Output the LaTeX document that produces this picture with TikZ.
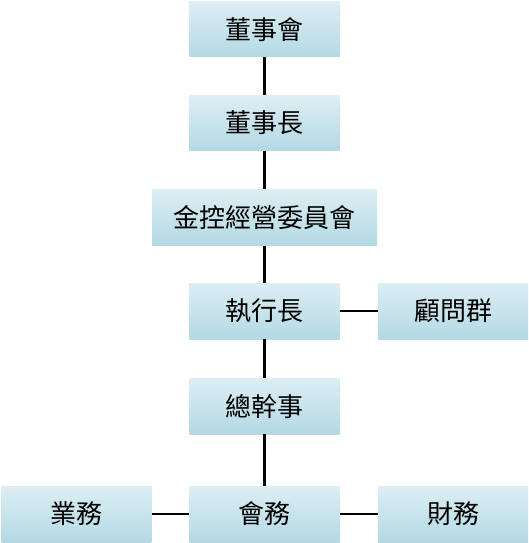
\documentclass[tikz,border=0pt]{standalone}
\usepackage{fontspec}
\setmainfont{Noto Sans CJK TC}
\begin{document}
\begin{tikzpicture}[x=1pt,y=-1pt,
  orgbox/.style={rectangle, top color=boxtop, bottom color=boxbot, draw=none,
    minimum width=150pt, minimum height=55pt, inner sep=0pt,
    font=\fontsize{26}{30}\selectfont, text=black},
  link/.style={draw=black, line width=2.6pt}]
\definecolor{boxtop}{HTML}{DDEEF4}
\definecolor{boxbot}{HTML}{B3D9E4}
\useasboundingbox (0,0) rectangle (529,543);
\node[orgbox] (a) at (264.5,29.5) {董事會};
\node[orgbox] (b) at (264.5,123) {董事長};
\node[orgbox, minimum width=225pt, minimum height=56pt] (c) at (264.5,217.5) {金控經營委員會};
\node[orgbox, minimum height=56pt] (d) at (264.5,311) {執行長};
\node[orgbox, minimum height=56pt] (e) at (453,311) {顧問群};
\node[orgbox, minimum height=56pt] (f) at (264.5,406) {總幹事};
\node[orgbox, minimum height=56pt] (g) at (76.5,514) {業務};
\node[orgbox, minimum height=56pt] (h) at (264.5,514) {會務};
\node[orgbox, minimum height=56pt] (i) at (453,514) {財務};
\draw[link] (a) -- (b);
\draw[link] (b) -- (c);
\draw[link] (c) -- (d);
\draw[link] (d) -- (e);
\draw[link] (d) -- (f);
\draw[link] (f) -- (h);
\draw[link] (g) -- (h);
\draw[link] (h) -- (i);
\end{tikzpicture}
\end{document}
